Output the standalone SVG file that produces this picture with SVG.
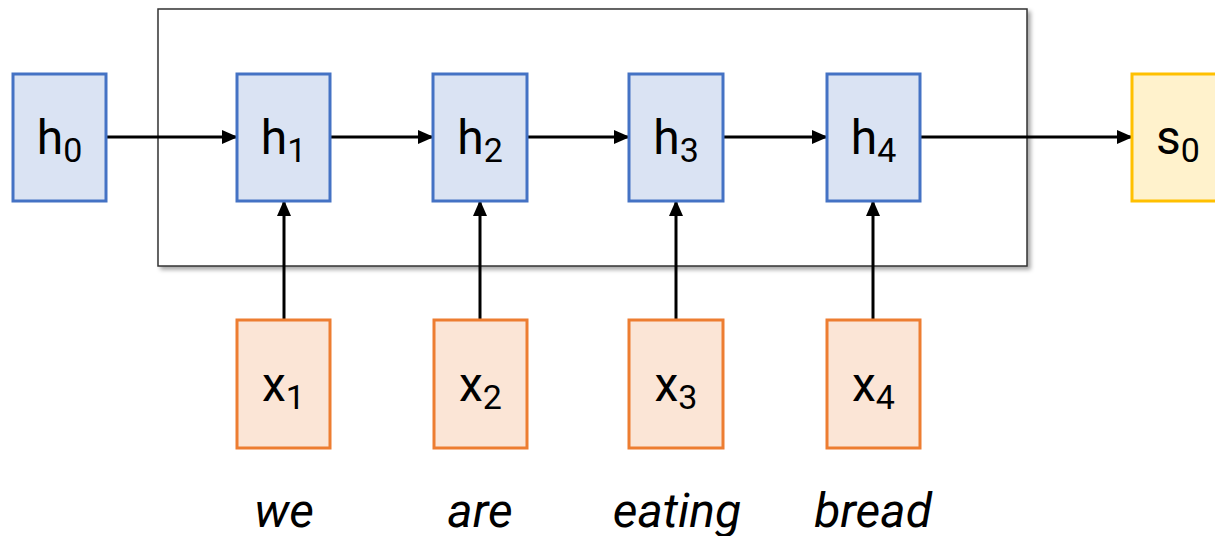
<svg xmlns="http://www.w3.org/2000/svg" width="1215" height="536" viewBox="0 0 1215 536">
<style>
.h{fill:#dae3f3;stroke:#4472c4;stroke-width:3}
.x{fill:#fbe5d6;stroke:#ed7d31;stroke-width:3}
.s{fill:#fff2cc;stroke:#ffc000;stroke-width:3}
.t{font-family:Roboto,"Liberation Sans",sans-serif;font-size:48px;fill:#000;text-anchor:middle}
.sub{font-size:34px}
.w{font-family:Roboto,"Liberation Sans",sans-serif;font-size:48px;font-style:italic;fill:#000;text-anchor:middle}
.c{stroke:#000;stroke-width:3;fill:none}
</style>
<defs>
<marker id="ah" markerWidth="16" markerHeight="16" refX="15" refY="7" orient="auto" markerUnits="userSpaceOnUse" viewBox="0 0 16 14">
<path d="M0,0 L16,7 L0,14 Z" fill="#000"/>
</marker>
<filter id="sh" x="-5%" y="-5%" width="110%" height="115%">
<feDropShadow dx="3" dy="3" stdDeviation="2" flood-color="#000" flood-opacity="0.35"/>
</filter>
</defs>
<g id="frame">
<rect x="158" y="9" width="869" height="257" fill="#fff" stroke="#333" stroke-width="1.5" filter="url(#sh)"/>
</g>
<g id="connectors">
<line class="c" x1="106" y1="137" x2="237" y2="137" marker-end="url(#ah)"/>
<line class="c" x1="330" y1="137" x2="433" y2="137" marker-end="url(#ah)"/>
<line class="c" x1="527" y1="137" x2="629" y2="137" marker-end="url(#ah)"/>
<line class="c" x1="723" y1="137" x2="827" y2="137" marker-end="url(#ah)"/>
<line class="c" x1="920" y1="137" x2="1132" y2="137" marker-end="url(#ah)"/>
<line class="c" x1="284" y1="320" x2="284" y2="201" marker-end="url(#ah)"/>
<line class="c" x1="480" y1="320" x2="480" y2="201" marker-end="url(#ah)"/>
<line class="c" x1="676" y1="320" x2="676" y2="201" marker-end="url(#ah)"/>
<line class="c" x1="873" y1="320" x2="873" y2="201" marker-end="url(#ah)"/>
</g>
<g id="h0"><rect class="h" x="13" y="74" width="93" height="127"/><text class="t" x="59.5" y="154">h<tspan class="sub" dy="8">0</tspan></text></g>
<g id="h1"><rect class="h" x="237" y="74" width="93" height="127"/><text class="t" x="283.5" y="154">h<tspan class="sub" dy="8">1</tspan></text></g>
<g id="h2"><rect class="h" x="433" y="74" width="94" height="127"/><text class="t" x="480" y="154">h<tspan class="sub" dy="8">2</tspan></text></g>
<g id="h3"><rect class="h" x="629" y="74" width="94" height="127"/><text class="t" x="676" y="154">h<tspan class="sub" dy="8">3</tspan></text></g>
<g id="h4"><rect class="h" x="827" y="74" width="93" height="127"/><text class="t" x="873.5" y="154">h<tspan class="sub" dy="8">4</tspan></text></g>
<g id="s0"><rect class="s" x="1132" y="74" width="93" height="127"/><text class="t" x="1178" y="154">s<tspan class="sub" dy="8">0</tspan></text></g>
<g id="x1"><rect class="x" x="237" y="320" width="93" height="128"/><text class="t" x="283.5" y="401">x<tspan class="sub" dy="8">1</tspan></text></g>
<g id="x2"><rect class="x" x="434" y="320" width="93" height="128"/><text class="t" x="480.5" y="401">x<tspan class="sub" dy="8">2</tspan></text></g>
<g id="x3"><rect class="x" x="629" y="320" width="94" height="128"/><text class="t" x="676" y="401">x<tspan class="sub" dy="8">3</tspan></text></g>
<g id="x4"><rect class="x" x="827" y="320" width="93" height="128"/><text class="t" x="873.5" y="401">x<tspan class="sub" dy="8">4</tspan></text></g>
<g id="words">
<text class="w" x="284" y="527">we</text>
<text class="w" x="480" y="527">are</text>
<text class="w" x="677" y="527">eating</text>
<text class="w" x="873" y="527">bread</text>
</g>
</svg>
